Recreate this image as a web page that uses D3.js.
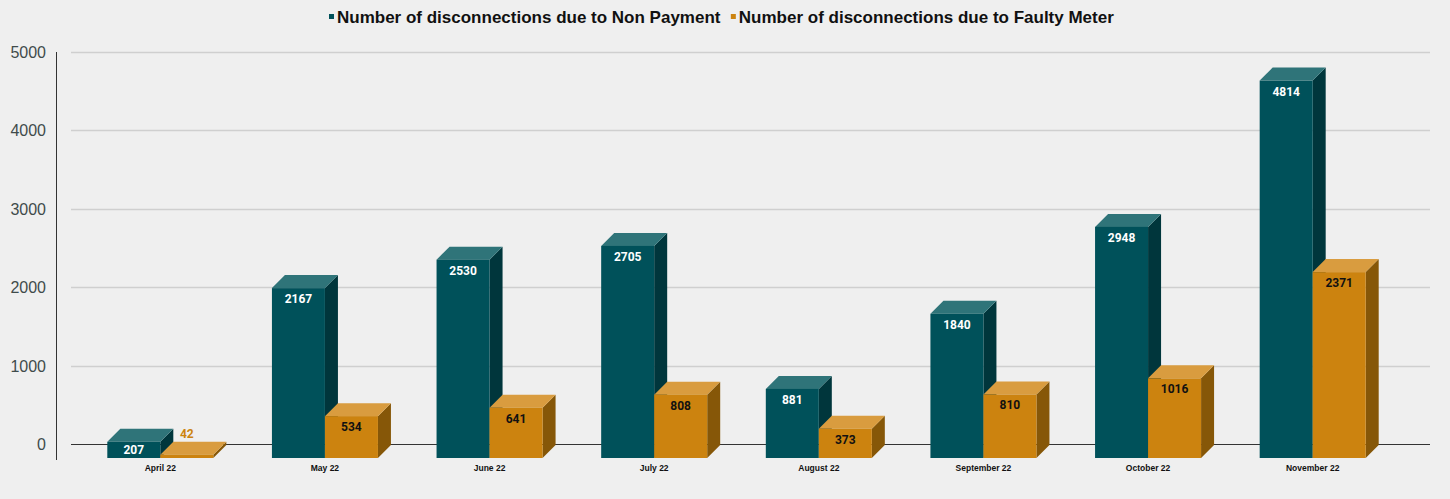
<!DOCTYPE html>
<html>
<head>
<meta charset="utf-8">
<script src="https://cdn.jsdelivr.net/npm/d3@7"></script>
<style>
  body { margin: 0; background: #efefef; }
  svg { display: block; }
</style>
</head>
<body>
<svg id="chart" width="1450" height="499"></svg>
<script>
const months = ['April 22', 'May 22', 'June 22', 'July 22', 'August 22', 'September 22', 'October 22', 'November 22'];
const nonPayment = [207, 2167, 2530, 2705, 881, 1840, 2948, 4814];
const faultyMeter = [42, 534, 641, 808, 373, 810, 1016, 2371];
const seriesNames = ['Number of disconnections due to Non Payment', 'Number of disconnections due to Faulty Meter'];
const yTicks = [0, 1000, 2000, 3000, 4000, 5000];

const W = 1450, H = 499;
const DEPTH = 13;      // 3d depth in px
const DROP = 14;       // front face sits below the grid plane
const svg = d3.select('#chart');

// colours: front, top, side
const palette = [
  { front: '#00515a', top: '#2f7479', side: '#00363c', label: '#ffffff' },
  { front: '#cc830f', top: '#d99c3f', side: '#865708', label: '#111111' }
];

const y = d3.scaleLinear().domain([0, 5000]).range([444, 52]);
const x0 = d3.scaleBand().domain(months).range([78, 1395])
  .paddingInner(0.356).paddingOuter(0.178);
const x1 = d3.scaleBand().domain([0, 1]).range([0, x0.bandwidth()]);

// grid
svg.append('g').selectAll('line').data(yTicks.filter(d => d > 0)).enter()
  .append('line')
  .attr('x1', 71).attr('x2', 1430)
  .attr('y1', d => Math.round(y(d)) + 0.5).attr('y2', d => Math.round(y(d)) + 0.5)
  .style('stroke', '#cfcfcf').style('stroke-width', 1.5);

// zero line
svg.append('line')
  .attr('x1', 71).attr('x2', 1430)
  .attr('y1', Math.round(y(0)) + 0.5).attr('y2', Math.round(y(0)) + 0.5)
  .style('stroke', '#333').style('stroke-width', 1);

// y axis line
svg.append('line')
  .attr('x1', 56.5).attr('x2', 56.5).attr('y1', 52).attr('y2', 460)
  .style('stroke', '#333').style('stroke-width', 1);

// y tick labels
svg.append('g').selectAll('text').data(yTicks).enter()
  .append('text')
  .attr('x', 46).attr('y', d => y(d) + 6)
  .attr('text-anchor', 'end')
  .style('font', '16px "Liberation Sans", Arial, sans-serif')
  .style('fill', '#3f4b4b')
  .text(d => d);

// bars
const rows = months.map((m, i) => ({ month: m, values: [nonPayment[i], faultyMeter[i]] }));

const groups = svg.append('g').selectAll('g').data(rows).enter()
  .append('g')
  .attr('transform', d => `translate(${x0(d.month)},0)`);

groups.each(function(d) {
  const g = d3.select(this);
  d.values.forEach((v, s) => {
    const c = palette[s];
    const bx = x1(s), bw = x1.bandwidth();
    const base = y(0) + DROP;
    const top = y(v) + DROP;
    // side face
    g.append('path')
      .attr('d', `M${bx + bw},${top} L${bx + bw + DEPTH},${top - DEPTH} L${bx + bw + DEPTH},${base - DEPTH} L${bx + bw},${base} Z`)
      .attr('fill', c.side);
    // top face
    g.append('path')
      .attr('d', `M${bx},${top} L${bx + DEPTH},${top - DEPTH} L${bx + bw + DEPTH},${top - DEPTH} L${bx + bw},${top} Z`)
      .attr('fill', c.top);
    // front face
    g.append('rect')
      .attr('x', bx).attr('y', top).attr('width', bw).attr('height', base - top)
      .attr('fill', c.front);
    // value label
    const h = base - top;
    const inside = h >= 14;
    g.append('text')
      .attr('x', bx + bw / 2)
      .attr('y', inside ? (h > 24 ? top + 15 : top + h / 2 + 4.5) : top - DEPTH - 4)
      .attr('text-anchor', 'middle')
      .style('font', 'bold 12px Roboto, "Liberation Sans", sans-serif')
      .style('fill', inside ? c.label : c.front)
      .text(v);
  });
});

// category labels
svg.append('g').selectAll('text').data(months).enter()
  .append('text')
  .attr('x', d => x0(d) + x0.bandwidth() / 2)
  .attr('y', 471)
  .attr('text-anchor', 'middle')
  .style('font', 'bold 8.5px "Liberation Sans", Arial, sans-serif')
  .style('fill', '#111')
  .text(d => d);

// legend
const legend = svg.append('g');
const items = legend.selectAll('g').data(seriesNames).enter().append('g');
items.append('rect')
  .attr('width', 5).attr('height', 5).attr('y', 14)
  .attr('fill', (d, i) => palette[i].front);
items.append('text')
  .attr('x', 8).attr('y', 22.5)
  .style('font', 'bold 17px "Liberation Sans", Arial, sans-serif')
  .style('fill', '#111')
  .text(d => d);
let lx = 329;
items.each(function() {
  const w = this.getBBox().width;
  d3.select(this).attr('transform', `translate(${lx},0)`);
  lx += w + 10;
});
</script>
</body>
</html>
